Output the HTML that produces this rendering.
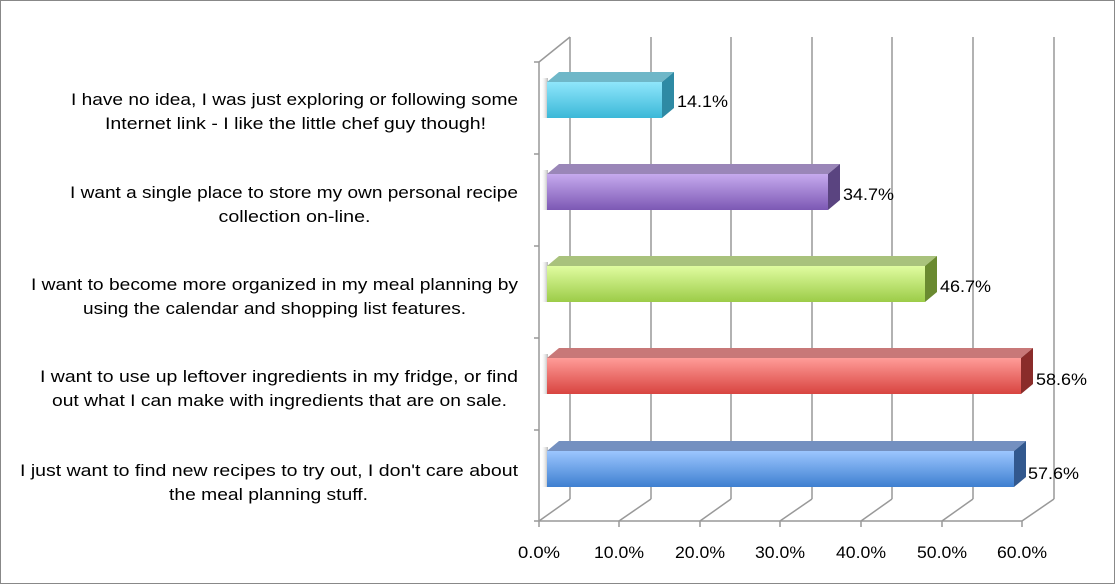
<!DOCTYPE html>
<html><head><meta charset="utf-8"><style>
html,body{margin:0;padding:0;background:#fff;}
svg{display:block;font-family:"Liberation Sans",Arial,sans-serif;}
</style></head><body>
<svg width="1115" height="584" viewBox="0 0 1115 584" xmlns="http://www.w3.org/2000/svg">
<defs>
<linearGradient id="gc" x1="0" y1="0" x2="0" y2="1"><stop offset="0" stop-color="#8fe6fb"/><stop offset="1" stop-color="#3bb8d8"/></linearGradient>
<linearGradient id="gp" x1="0" y1="0" x2="0" y2="1"><stop offset="0" stop-color="#c6aaee"/><stop offset="1" stop-color="#7c58b4"/></linearGradient>
<linearGradient id="gg" x1="0" y1="0" x2="0" y2="1"><stop offset="0" stop-color="#e0fca0"/><stop offset="1" stop-color="#9ccc48"/></linearGradient>
<linearGradient id="gr" x1="0" y1="0" x2="0" y2="1"><stop offset="0" stop-color="#ff9c98"/><stop offset="1" stop-color="#d84440"/></linearGradient>
<linearGradient id="gb" x1="0" y1="0" x2="0" y2="1"><stop offset="0" stop-color="#9cc6ff"/><stop offset="1" stop-color="#3e7fd0"/></linearGradient>
<linearGradient id="sh" x1="0" y1="0" x2="1" y2="0"><stop offset="0" stop-color="#fff" stop-opacity="0"/><stop offset="1" stop-color="#888"/></linearGradient>
</defs>
<rect x="0.5" y="0.5" width="1114" height="583" fill="#fff" stroke="#888"/>
<g stroke="#999" stroke-width="1.5" fill="none">
<line x1="570" y1="37" x2="570" y2="499"/>
<line x1="651" y1="37" x2="651" y2="499"/>
<line x1="731" y1="37" x2="731" y2="499"/>
<line x1="812" y1="37" x2="812" y2="499"/>
<line x1="892" y1="37" x2="892" y2="499"/>
<line x1="973" y1="37" x2="973" y2="499"/>
<line x1="1054" y1="37" x2="1054" y2="499"/>
<line x1="539" y1="62" x2="539" y2="521"/>
<line x1="539" y1="62" x2="570" y2="37"/>
<line x1="539" y1="521" x2="1022" y2="521"/>
<line x1="539" y1="521" x2="570" y2="499"/>
<line x1="619" y1="521" x2="651" y2="499"/>
<line x1="700" y1="521" x2="731" y2="499"/>
<line x1="780" y1="521" x2="812" y2="499"/>
<line x1="861" y1="521" x2="892" y2="499"/>
<line x1="942" y1="521" x2="973" y2="499"/>
<line x1="1022" y1="521" x2="1054" y2="499"/>
<line x1="534" y1="62" x2="539" y2="62"/>
<line x1="534" y1="154" x2="539" y2="154"/>
<line x1="534" y1="246" x2="539" y2="246"/>
<line x1="534" y1="338" x2="539" y2="338"/>
<line x1="534" y1="430" x2="539" y2="430"/>
<line x1="534" y1="521" x2="539" y2="521"/>
<line x1="539" y1="521" x2="539" y2="527"/>
<line x1="619" y1="521" x2="619" y2="527"/>
<line x1="700" y1="521" x2="700" y2="527"/>
<line x1="780" y1="521" x2="780" y2="527"/>
<line x1="861" y1="521" x2="861" y2="527"/>
<line x1="942" y1="521" x2="942" y2="527"/>
<line x1="1022" y1="521" x2="1022" y2="527"/>
</g>
<g font-size="17" fill="#000" text-anchor="middle">
<text x="539" y="558" textLength="42" lengthAdjust="spacingAndGlyphs">0.0%</text>
<text x="619" y="558" textLength="50" lengthAdjust="spacingAndGlyphs">10.0%</text>
<text x="700" y="558" textLength="50" lengthAdjust="spacingAndGlyphs">20.0%</text>
<text x="780" y="558" textLength="50" lengthAdjust="spacingAndGlyphs">30.0%</text>
<text x="861" y="558" textLength="50" lengthAdjust="spacingAndGlyphs">40.0%</text>
<text x="942" y="558" textLength="50" lengthAdjust="spacingAndGlyphs">50.0%</text>
<text x="1022" y="558" textLength="50" lengthAdjust="spacingAndGlyphs">60.0%</text>
</g>
<g>
<rect x="541" y="78" width="7" height="40" fill="url(#sh)" opacity="0.6"/>
<polygon points="547,82 559,72 674,72 662,82" fill="#6fb7c8"/>
<polygon points="662,82 674,72 674,108 662,118" fill="#2e8aa4"/>
<rect x="547" y="82" width="115" height="36" fill="url(#gc)"/>
<rect x="541" y="170" width="7" height="40" fill="url(#sh)" opacity="0.6"/>
<polygon points="547,174 559,164 840,164 828,174" fill="#9a86b8"/>
<polygon points="828,174 840,164 840,200 828,210" fill="#5a4480"/>
<rect x="547" y="174" width="281" height="36" fill="url(#gp)"/>
<rect x="541" y="262" width="7" height="40" fill="url(#sh)" opacity="0.6"/>
<polygon points="547,266 559,256 937,256 925,266" fill="#a9c27c"/>
<polygon points="925,266 937,256 937,292 925,302" fill="#6a8a30"/>
<rect x="547" y="266" width="378" height="36" fill="url(#gg)"/>
<rect x="541" y="354" width="7" height="40" fill="url(#sh)" opacity="0.6"/>
<polygon points="547,358 559,348 1033,348 1021,358" fill="#c87878"/>
<polygon points="1021,358 1033,348 1033,384 1021,394" fill="#8a2c2a"/>
<rect x="547" y="358" width="474" height="36" fill="url(#gr)"/>
<rect x="541" y="447" width="7" height="40" fill="url(#sh)" opacity="0.6"/>
<polygon points="547,451 559,441 1026,441 1014,451" fill="#7490c0"/>
<polygon points="1014,451 1026,441 1026,477 1014,487" fill="#32588e"/>
<rect x="547" y="451" width="467" height="36" fill="url(#gb)"/>
</g>
<g font-size="17" fill="#000">
<text x="677" y="107" textLength="51" lengthAdjust="spacingAndGlyphs">14.1%</text>
<text x="843" y="200" textLength="51" lengthAdjust="spacingAndGlyphs">34.7%</text>
<text x="940" y="292" textLength="51" lengthAdjust="spacingAndGlyphs">46.7%</text>
<text x="1036" y="385" textLength="51" lengthAdjust="spacingAndGlyphs">58.6%</text>
<text x="1028" y="479" textLength="51" lengthAdjust="spacingAndGlyphs">57.6%</text>
</g>
<g font-size="17" fill="#000" text-anchor="middle">
<text x="294.5" y="105" textLength="447" lengthAdjust="spacingAndGlyphs">I have no idea, I was just exploring or following some</text>
<text x="295.5" y="129" textLength="381" lengthAdjust="spacingAndGlyphs">Internet link - I like the little chef guy though!</text>
<text x="294" y="198" textLength="448" lengthAdjust="spacingAndGlyphs">I want a single place to store my own personal recipe</text>
<text x="294.5" y="222" textLength="152" lengthAdjust="spacingAndGlyphs">collection on-line.</text>
<text x="274.5" y="290" textLength="487" lengthAdjust="spacingAndGlyphs">I want to become more organized in my meal planning by</text>
<text x="274.5" y="314" textLength="383" lengthAdjust="spacingAndGlyphs">using the calendar and shopping list features.</text>
<text x="279" y="382" textLength="478" lengthAdjust="spacingAndGlyphs">I want to use up leftover ingredients in my fridge, or find</text>
<text x="279.5" y="406" textLength="455" lengthAdjust="spacingAndGlyphs">out what I can make with ingredients that are on sale.</text>
<text x="269" y="476" textLength="498" lengthAdjust="spacingAndGlyphs">I just want to find new recipes to try out, I don't care about</text>
<text x="268.5" y="500" textLength="199" lengthAdjust="spacingAndGlyphs">the meal planning stuff.</text>
</g>
</svg>
</body></html>
